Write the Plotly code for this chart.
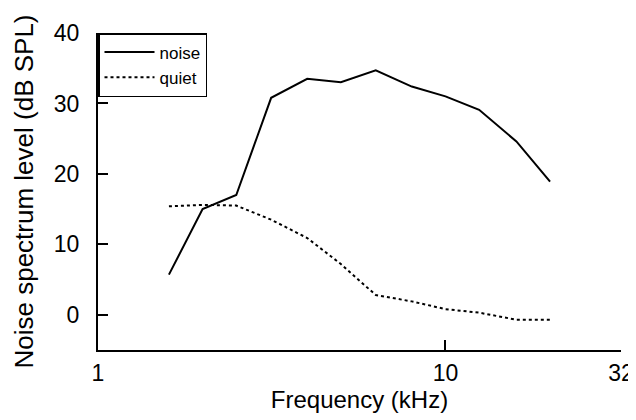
import plotly.graph_objects as go
import numpy as np

freq_khz = [1.6, 2, 2.5, 3.15, 4, 5, 6.3, 8, 10, 12.5, 16, 20]
noise_db = [5.7, 15.0, 17.0, 30.8, 33.5, 33.0, 34.7, 32.4, 31.0, 29.1, 24.6, 18.9]
quiet_db = [15.4, 15.6, 15.5, 13.5, 10.9, 7.2, 2.8, 1.9, 0.8, 0.3, -0.7, -0.7]

x_ticks = [1, 10, 32]
x_ticktext = ["1", "10", "32"]
y_ticks = [0, 10, 20, 30, 40]

font_family = "Liberation Sans, Arial, Helvetica, sans-serif"

fig = go.Figure()
fig.add_trace(go.Scatter(x=freq_khz, y=noise_db, mode="lines", name="noise",
                         line=dict(color="black", width=2)))
fig.add_trace(go.Scatter(x=freq_khz, y=quiet_db, mode="lines", name="quiet",
                         line=dict(color="black", width=2, dash="3px,3px")))

fig.update_layout(
    width=636, height=420,
    margin=dict(l=90, r=23, t=25, b=78, autoexpand=False),
    paper_bgcolor="white", plot_bgcolor="white",
    font=dict(family=font_family, color="black", size=23),
    showlegend=True,
    legend=dict(x=0, y=1, xanchor="left", yanchor="top",
                bgcolor="white", bordercolor="black", borderwidth=1.5,
                font=dict(size=17, family=font_family),
                tracegroupgap=0, itemwidth=50),
)
fig.update_xaxes(
    type="log", range=[0, np.log10(32)],
    tickvals=x_ticks, ticktext=x_ticktext,
    ticks="inside", ticklen=10, tickwidth=2, tickcolor="black",
    showline=True, linewidth=2, linecolor="black",
    showgrid=False, zeroline=False, automargin=False,
    tickfont=dict(size=23), ticklabelstandoff=1,
    title=dict(text="Frequency (kHz)", font=dict(size=24), standoff=5),
)
fig.update_yaxes(
    range=[-5, 40], tickvals=y_ticks,
    ticks="inside", ticklen=10, tickwidth=2, tickcolor="black",
    showline=True, linewidth=2, linecolor="black",
    showgrid=False, zeroline=False, automargin=False,
    tickfont=dict(size=23), ticklabelstandoff=12,
    title=dict(text="Noise spectrum level (dB SPL)", font=dict(size=26), standoff=13),
)

fig.write_html("out.html")
